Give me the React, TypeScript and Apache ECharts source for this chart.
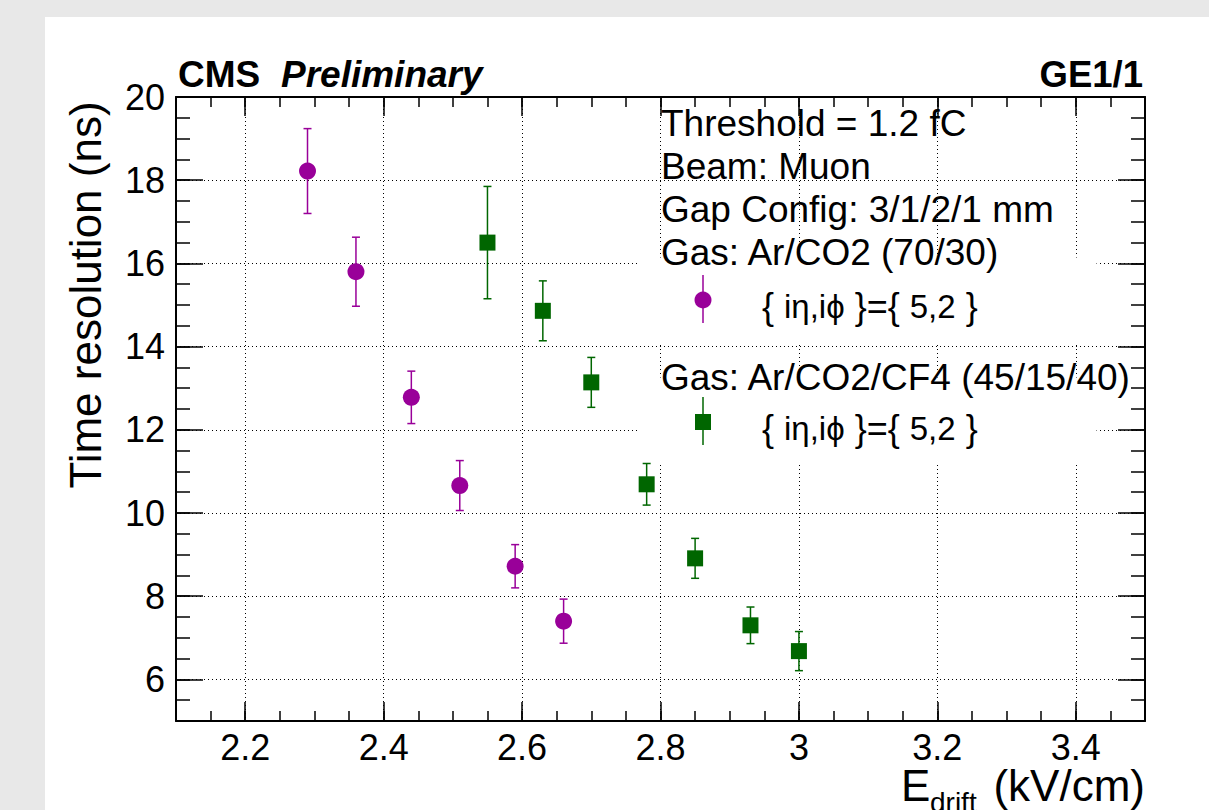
import React, { useEffect, useRef } from 'react';
import * as echarts from 'echarts';

// ---- data ----
const purpleX = [2.29, 2.36, 2.44, 2.51, 2.59, 2.66];
const purpleY = [18.22, 15.8, 12.78, 10.66, 8.72, 7.4];
const purpleErr = [1.02, 0.83, 0.63, 0.6, 0.52, 0.53];

const greenX = [2.55, 2.63, 2.7, 2.78, 2.85, 2.93, 3.0];
const greenY = [16.5, 14.86, 13.14, 10.69, 8.91, 7.3, 6.68];
const greenErr = [1.35, 0.72, 0.6, 0.5, 0.48, 0.44, 0.47];

const xTicks = [2.2, 2.4, 2.6, 2.8, 3.0, 3.2, 3.4];
const yTicks = [6, 8, 10, 12, 14, 16, 18, 20];

const legendLines = ['Threshold = 1.2 fC', 'Beam: Muon', 'Gap Config: 3/1/2/1 mm', 'Gas: Ar/CO2 (70/30)'];
const legendGas2 = 'Gas: Ar/CO2/CF4 (45/15/40)';

const PURPLE = '#990099';
const GREEN = '#006600';
const FONT = '"Liberation Sans", Arial, Helvetica, sans-serif';

const X_MIN = 2.1, X_MAX = 3.5, Y_MIN = 5, Y_MAX = 20;

function errRender(color: string) {
  return (params: any, api: any) => {
    const x = api.value(0), y = api.value(1), e = api.value(2);
    const t = api.coord([x, y + e]);
    const b = api.coord([x, y - e]);
    const hw = 4;
    const st = { stroke: color, lineWidth: 1.5 };
    return {
      type: 'group',
      children: [
        { type: 'line', shape: { x1: t[0], y1: t[1], x2: b[0], y2: b[1] }, style: st },
        { type: 'line', shape: { x1: t[0] - hw, y1: t[1], x2: t[0] + hw, y2: t[1] }, style: st },
        { type: 'line', shape: { x1: b[0] - hw, y1: b[1], x2: b[0] + hw, y2: b[1] }, style: st },
      ],
    };
  };
}

export default function App() {
  const ref = useRef<HTMLDivElement>(null);
  useEffect(() => {
    if (!ref.current) return;
    const chart = echarts.init(ref.current, null, { renderer: 'svg' });
    const axisLine = { show: true, onZero: false, lineStyle: { color: '#000', width: 2 } };
    const grid = { left: 131, top: 80, right: 64, bottom: 89, containLabel: false };
    const majorX = (pos: string, labels: boolean, split: boolean) => ({
      type: 'value', position: pos, min: X_MIN, max: X_MAX,
      axisLine,
      axisTick: { show: true, inside: true, length: 19, customValues: xTicks, lineStyle: { color: '#000', width: 1.5 } },
      axisLabel: { show: labels, customValues: xTicks, margin: 8, color: '#000', fontSize: 36, fontFamily: FONT },
      splitLine: { show: split, lineStyle: { color: '#000', width: 1, type: [1, 3] } },
    });
    const minorX = (pos: string) => ({
      type: 'value', position: pos, min: X_MIN, max: X_MAX, interval: 0.05,
      axisLine: { show: false, onZero: false },
      axisTick: { show: true, inside: true, length: 10, lineStyle: { color: '#000', width: 1.5 } },
      axisLabel: { show: false }, splitLine: { show: false },
    });
    const majorY = (pos: string, labels: boolean, split: boolean) => ({
      type: 'value', position: pos, min: Y_MIN, max: Y_MAX,
      axisLine,
      axisTick: { show: true, inside: true, length: 27, customValues: yTicks, lineStyle: { color: '#000', width: 1.5 } },
      axisLabel: { show: labels, customValues: yTicks, margin: 11, color: '#000', fontSize: 36, fontFamily: FONT },
      splitLine: { show: split, lineStyle: { color: '#000', width: 1, type: [1, 3] } },
    });
    const minorY = (pos: string) => ({
      type: 'value', position: pos, min: Y_MIN, max: Y_MAX, interval: 0.5,
      axisLine: { show: false, onZero: false },
      axisTick: { show: true, inside: true, length: 14, lineStyle: { color: '#000', width: 1.5 } },
      axisLabel: { show: false }, splitLine: { show: false },
    });

    const txt = (text: string, x: number, y: number, size: number, extra: any = {}) => ({
      type: 'text', x, y, z: 100,
      style: { text, fill: '#000', fontSize: size, fontFamily: FONT, verticalAlign: 'middle', align: 'left', ...extra },
    });

    const legendX = 616;
    const legendYs = [106.5, 149, 192, 235];
    const entryText = (y: number) => ({
      type: 'text', x: 717, y, z: 100,
      style: {
        text: '{ {t|iη,iϕ} }={ {t|5,2} }', fill: '#000', fontSize: 36, fontFamily: FONT, verticalAlign: 'middle',
        rich: { t: { fontSize: 33, fontFamily: FONT, fill: '#000' } },
      },
    });

    chart.setOption({
      animation: false,
      backgroundColor: '#ffffff',
      grid,
      xAxis: [majorX('bottom', true, true), minorX('bottom'), majorX('top', false, false), minorX('top')],
      yAxis: [majorY('left', true, true), minorY('left'), majorY('right', false, false), minorY('right')],
      series: [
        {
          type: 'line', data: [], silent: true,
          markArea: {
            silent: true,
            itemStyle: { color: '#ffffff', opacity: 1 },
            data: [
              [{ xAxis: 2.77, yAxis: 16.14 }, { xAxis: 3.43, yAxis: 14.05 }],
              [{ xAxis: 2.77, yAxis: 13.26 }, { xAxis: 3.43, yAxis: 11.19 }],
            ],
          },
        },
        {
          type: 'custom', renderItem: errRender(PURPLE),
          data: purpleX.map((x, i) => [x, purpleY[i], purpleErr[i]]),
          encode: { x: 0, y: 1 }, z: 3,
        },
        {
          type: 'custom', renderItem: errRender(GREEN),
          data: greenX.map((x, i) => [x, greenY[i], greenErr[i]]),
          encode: { x: 0, y: 1 }, z: 3,
        },
        {
          type: 'scatter', symbol: 'circle', symbolSize: 17, z: 4,
          itemStyle: { color: PURPLE, opacity: 1 },
          data: purpleX.map((x, i) => [x, purpleY[i]]),
        },
        {
          type: 'scatter', symbol: 'rect', symbolSize: 16, z: 4,
          itemStyle: { color: GREEN, opacity: 1 },
          data: greenX.map((x, i) => [x, greenY[i]]),
        },
      ],
      graphic: [
        txt('CMS', 133, 57.5, 37, { fontWeight: 'bold' }),
        txt('Preliminary', 236, 57.5, 37, { fontWeight: 'bold', fontStyle: 'italic' }),
        txt('GE1/1', 1098, 57.5, 36.5, { fontWeight: 'bold', align: 'right' }),
        {
          type: 'text', x: 40, y: 278, rotation: Math.PI / 2, z: 100,
          style: { text: 'Time resolution (ns)', fill: '#000', fontSize: 44, fontFamily: FONT, align: 'center', verticalAlign: 'middle' },
        },
        txt('E', 856, 768, 44),
        txt('drift', 885, 785, 28),
        txt('(kV/cm)', 1100, 768, 44, { align: 'right' }),
        ...legendLines.map((s, i) => txt(s, legendX, legendYs[i], 37)),
        txt(legendGas2, legendX, 360, 37),
        // legend entry 1 marker
        { type: 'line', z: 100, shape: { x1: 658, y1: 258, x2: 658, y2: 306 }, style: { stroke: PURPLE, lineWidth: 1.5 } },
        { type: 'circle', z: 101, shape: { cx: 658, cy: 283, r: 8.5 }, style: { fill: PURPLE } },
        entryText(289),
        // legend entry 2 marker
        { type: 'line', z: 100, shape: { x1: 658, y1: 380, x2: 658, y2: 428 }, style: { stroke: GREEN, lineWidth: 1.5 } },
        { type: 'rect', z: 101, shape: { x: 650, y: 397, width: 16, height: 16 }, style: { fill: GREEN } },
        entryText(411),
      ],
    });
    return () => chart.dispose();
  }, []);

  return (
    <div style={{ position: 'absolute', left: 0, top: 0, width: 1209, height: 810, background: '#e8e8e8', overflow: 'hidden' }}>
      <div ref={ref} style={{ position: 'absolute', left: 45, top: 17, width: 1164, height: 793, background: '#ffffff' }} />
    </div>
  );
}
